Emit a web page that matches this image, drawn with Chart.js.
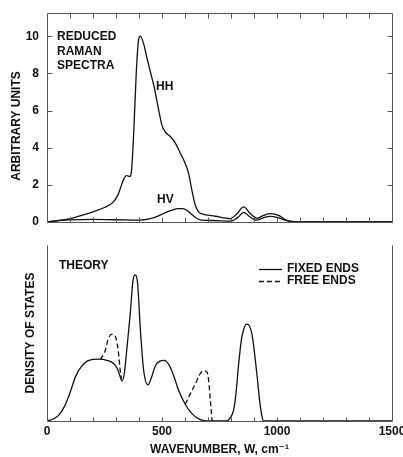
<!DOCTYPE html>
<html>
<head>
<meta charset="utf-8">
<script src="https://cdn.jsdelivr.net/npm/chart.js@4"></script>
<style>
  html, body { margin: 0; padding: 0; background: #fff; }
  #wrap { position: relative; width: 403px; height: 457px; }
  canvas { position: absolute; left: 0; }
  #ramanChart { top: 0; }
  #theoryChart { top: 230px; }
</style>
</head>
<body>
<div id="wrap">
  <canvas id="ramanChart" width="403" height="230"></canvas>
  <canvas id="theoryChart" width="403" height="227"></canvas>
</div>
<script>
// --- top panel: reduced Raman spectra ---
const hhW = [0, 50, 100, 150, 200, 250, 290, 310, 330, 345, 360, 367, 377, 388, 398, 406, 420, 435, 449, 467, 486, 500, 514, 536, 558, 580, 601, 616, 630, 645, 659, 674, 732, 797, 826, 855, 884, 913, 942, 971, 1007, 1036, 1065, 1100, 1500];
const hhValues = [0, 0.08, 0.18, 0.36, 0.55, 0.78, 1.1, 1.5, 2.2, 2.5, 2.45, 2.7, 4.8, 8.0, 9.8, 10.0, 9.6, 8.8, 8.1, 7.2, 6.0, 5.2, 4.85, 4.6, 4.25, 3.7, 3.15, 2.6, 1.7, 0.9, 0.55, 0.44, 0.31, 0.18, 0.45, 0.81, 0.45, 0.2, 0.36, 0.45, 0.36, 0.12, 0.03, 0, 0];
const hvW = [0, 50, 100, 200, 300, 400, 450, 480, 510, 540, 570, 590, 610, 630, 650, 670, 720, 800, 830, 855, 880, 910, 940, 970, 1000, 1035, 1065, 1100, 1500];
const hvValues = [0, 0.07, 0.11, 0.14, 0.12, 0.1, 0.18, 0.3, 0.48, 0.62, 0.72, 0.72, 0.62, 0.4, 0.2, 0.1, 0.08, 0.05, 0.25, 0.52, 0.3, 0.1, 0.22, 0.3, 0.25, 0.1, 0.02, 0, 0];
const ramanYTicks = [0, 2, 4, 6, 8, 10];

// --- bottom panel: theory, density of states ---
const fixedW = [0, 25, 50, 75, 100, 125, 150, 175, 200, 230, 260, 290, 305, 316, 326, 336, 348, 362, 374, 384, 394, 406, 420, 439, 455, 470, 490, 510, 530, 550, 572, 601, 630, 660, 690, 710, 780, 795, 811, 822, 833, 845, 855, 868, 880, 891, 902, 913, 925, 935, 942, 1500];
const fixedValues = [0, 0.1, 0.32, 0.8, 1.6, 2.55, 3.1, 3.4, 3.5, 3.52, 3.45, 3.27, 3.0, 2.6, 2.28, 2.7, 4.2, 6.1, 8.0, 8.3, 7.8, 5.2, 2.9, 2.05, 2.5, 3.1, 3.4, 3.45, 3.2, 2.6, 1.75, 0.95, 0.42, 0.12, 0.01, 0, 0, 0.15, 0.6, 1.6, 3.2, 4.6, 5.2, 5.5, 5.4, 4.95, 3.9, 2.6, 1.1, 0.25, 0, 0];
const freeW = [232, 253, 265, 280, 290, 300, 311, 319, 324, 460, 601, 625, 645, 662, 674, 685, 696, 703, 710, 713, 717, 720];
const freeValues = [3.5, 4.0, 4.6, 4.92, 4.9, 4.7, 3.85, 2.8, 2.4, null, 0.95, 1.6, 2.1, 2.6, 2.82, 2.85, 2.78, 2.28, 1.2, 0.76, 0.1, 0];
const theoryXLabels = [0, 500, 1000, 1500];
const tickMarksX = [100, 200, 300, 400, 500, 600, 700, 800, 900, 1000, 1100, 1200, 1300, 1400];

const INK = '#111';
const FONT = "'Liberation Sans', Arial, 'DejaVu Sans', sans-serif";
Chart.defaults.font.family = FONT;
Chart.defaults.font.size = 12;
Chart.defaults.font.weight = 'bold';
Chart.defaults.color = INK;

function toPoints(ws, vs) {
    return ws.map((w, i) => ({ x: w, y: vs[i] }));
}

// frame lines and inward tick marks
const framePlugin = {
    id: 'frame',
    afterDatasetsDraw(chart, args, opts) {
        const { ctx, chartArea: a, scales: { x, y } } = chart;
        const L = Math.round(a.left) + 0.5, R = Math.round(a.right) + 0.5;
        const T = Math.round(a.top) + 0.5, B = Math.round(a.bottom) + 0.5;
        ctx.save();
        ctx.strokeStyle = opts.color;
        ctx.lineWidth = 1;
        ctx.beginPath();
        if (opts.sides.includes('top')) { ctx.moveTo(L, T); ctx.lineTo(R, T); }
        if (opts.sides.includes('bottom')) { ctx.moveTo(L, B); ctx.lineTo(R, B); }
        if (opts.sides.includes('left')) { ctx.moveTo(L, T); ctx.lineTo(L, B); }
        if (opts.sides.includes('right')) { ctx.moveTo(R, T); ctx.lineTo(R, B); }
        const len = opts.tickLen;
        (opts.xTicks || []).forEach(v => {
            const px = Math.round(x.getPixelForValue(v)) + 0.5;
            if (opts.tickSides.includes('bottom')) { ctx.moveTo(px, B); ctx.lineTo(px, B - len); }
            if (opts.tickSides.includes('top')) { ctx.moveTo(px, T); ctx.lineTo(px, T + len); }
        });
        (opts.yTicks || []).forEach(v => {
            const py = Math.round(y.getPixelForValue(v)) + 0.5;
            if (opts.tickSides.includes('left')) { ctx.moveTo(L, py); ctx.lineTo(L + len, py); }
            if (opts.tickSides.includes('right')) { ctx.moveTo(R, py); ctx.lineTo(R - len, py); }
        });
        ctx.stroke();
        ctx.restore();
    }
};

// free text, legend samples
const notesPlugin = {
    id: 'notes',
    afterDatasetsDraw(chart, args, opts) {
        const { ctx, chartArea: a } = chart;
        ctx.save();
        ctx.fillStyle = INK;
        ctx.font = 'bold 12px ' + FONT;
        ctx.textBaseline = 'middle';
        (opts.items || []).forEach(it => {
            ctx.fillText(it.text, a.left + it.dx, a.top + it.dy);
        });
        (opts.legend || []).forEach(it => {
            const ds = chart.data.datasets[it.dataset];
            const yy = Math.round(a.top + it.dy) + 0.5;
            ctx.strokeStyle = ds.borderColor;
            ctx.lineWidth = ds.borderWidth;
            ctx.setLineDash(ds.borderDash || []);
            ctx.beginPath();
            ctx.moveTo(a.left + it.dx, yy);
            ctx.lineTo(a.left + it.dx + 23, yy);
            ctx.stroke();
            ctx.setLineDash([]);
            ctx.fillText(ds.label, a.left + it.dx + 28, a.top + it.dy);
        });
        if (opts.rotated) {
            const r = opts.rotated;
            ctx.translate(r.x, r.y);
            ctx.rotate(-Math.PI / 2);
            ctx.textAlign = 'center';
            ctx.fillText(r.text, 0, 0);
        }
        ctx.restore();
    }
};

new Chart(document.getElementById('ramanChart'), {
    type: 'line',
    data: {
        datasets: [
            { label: 'HH', data: toPoints(hhW, hhValues), borderColor: INK, borderWidth: 1.3, pointRadius: 0, cubicInterpolationMode: 'monotone', fill: false },
            { label: 'HV', data: toPoints(hvW, hvValues), borderColor: INK, borderWidth: 1.3, pointRadius: 0, cubicInterpolationMode: 'monotone', fill: false }
        ]
    },
    options: {
        responsive: false,
        animation: false,
        layout: { padding: { left: 0, right: 11, top: 13, bottom: 8 } },
        scales: {
            x: {
                type: 'linear', min: 0, max: 1500,
                ticks: { display: false },
                grid: { display: false, drawTicks: false },
                border: { display: false },
                afterFit: s => { s.height = 0; s.paddingLeft = 0; s.paddingRight = 0; }
            },
            y: {
                min: 0, max: 11.25,
                ticks: { padding: 8, callback: v => String(v) },
                grid: { display: false, drawTicks: false },
                border: { display: false },
                afterBuildTicks: s => { s.ticks = ramanYTicks.map(v => ({ value: v })); },
                afterFit: s => { s.width = 47; s.paddingTop = 0; s.paddingBottom = 0; }
            }
        },
        plugins: {
            legend: { display: false },
            tooltip: { enabled: false },
            frame: { color: '#555', sides: ['top', 'right', 'bottom', 'left'], tickSides: ['top', 'bottom', 'left', 'right'], xTicks: tickMarksX, yTicks: ramanYTicks.slice(1), tickLen: 5 },
            notes: {
                items: [
                    { text: 'REDUCED', dx: 10, dy: 24 },
                    { text: 'RAMAN', dx: 10, dy: 39 },
                    { text: 'SPECTRA', dx: 10, dy: 53 },
                    { text: 'HH', dx: 109, dy: 74 },
                    { text: 'HV', dx: 110, dy: 187 }
                ],
                rotated: { text: 'ARBITRARY UNITS', x: 17, y: 126 }
            }
        }
    },
    plugins: [framePlugin, notesPlugin]
});

new Chart(document.getElementById('theoryChart'), {
    type: 'line',
    data: {
        datasets: [
            { label: 'FIXED ENDS', data: toPoints(fixedW, fixedValues), borderColor: INK, borderWidth: 1.3, pointRadius: 0, cubicInterpolationMode: 'monotone', fill: false },
            { label: 'FREE ENDS', data: toPoints(freeW, freeValues), borderColor: INK, borderWidth: 1.3, borderDash: [5, 3], pointRadius: 0, cubicInterpolationMode: 'monotone', fill: false, spanGaps: false }
        ]
    },
    options: {
        responsive: false,
        animation: false,
        layout: { padding: { left: 19, right: 11, top: 15, bottom: 0 } },
        scales: {
            x: {
                type: 'linear', min: 0, max: 1500,
                ticks: { padding: 3, callback: v => String(v) },
                grid: { display: false, drawTicks: false },
                border: { display: false },
                title: { display: true, text: 'WAVENUMBER, W, cm\u207B\u00B9', padding: { top: 0, bottom: 0 } },
                afterBuildTicks: s => { s.ticks = theoryXLabels.map(v => ({ value: v })); },
                afterFit: s => { s.height = 36; s.paddingLeft = 0; s.paddingRight = 0; }
            },
            y: {
                min: 0, max: 10,
                ticks: { display: false },
                grid: { display: false, drawTicks: false },
                border: { display: false },
                title: { display: true, text: 'DENSITY OF STATES' },
                afterFit: s => { s.width = 28; s.paddingTop = 0; s.paddingBottom = 0; }
            }
        },
        plugins: {
            legend: { display: false },
            tooltip: { enabled: false },
            frame: { color: '#555', sides: ['left', 'bottom', 'right'], tickSides: ['bottom'], xTicks: tickMarksX, yTicks: [], tickLen: 4 },
            notes: {
                items: [{ text: 'THEORY', dx: 12, dy: 21 }],
                legend: [{ dataset: 0, dx: 212, dy: 24 }, { dataset: 1, dx: 212, dy: 36 }]
            }
        }
    },
    plugins: [framePlugin, notesPlugin]
});
</script>
</body>
</html>
